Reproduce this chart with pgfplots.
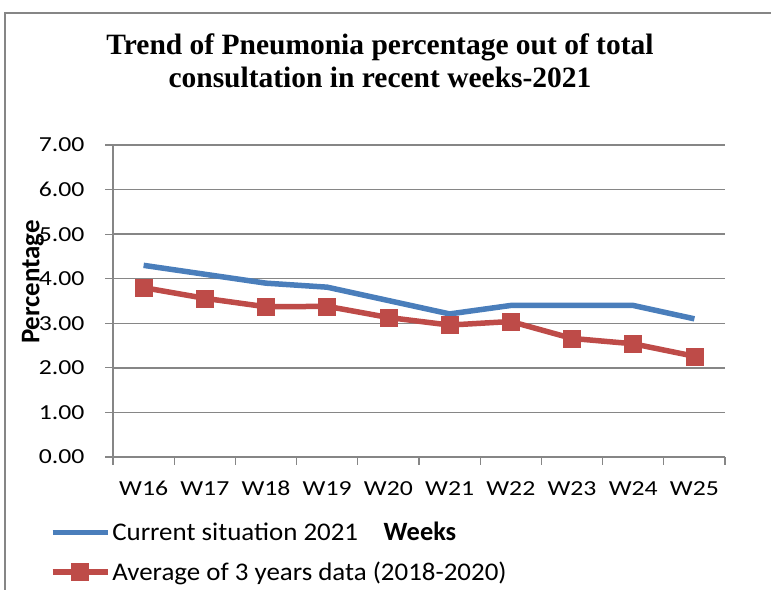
\documentclass[border=0pt]{standalone}
\usepackage{pgfplots}
\pgfplotsset{compat=1.18}
\usepackage{fontspec}
\setmainfont{Carlito}
\newfontfamily\tickfont[FakeStretch=1.2]{Carlito}
\newfontfamily\legfont[FakeStretch=1.06]{Carlito}
\newfontfamily\titlefont{Liberation Serif}
\definecolor{bluec}{RGB}{74,126,187}
\definecolor{redc}{RGB}{190,75,72}
\definecolor{gridc}{RGB}{134,134,134}
\begin{document}
\begin{tikzpicture}[x=1bp,y=1bp]
\path[use as bounding box] (0,0) rectangle (772,590);
\draw[gridc,line width=1.2bp] (5,0) -- (5,577) -- (771,577);
\node[anchor=base,font=\titlefont\bfseries\fontsize{29.6}{33}\selectfont] at (380,535) {Trend of Pneumonia percentage out of total};
\node[anchor=base,font=\titlefont\bfseries\fontsize{29.6}{33}\selectfont] at (380,502) {consultation in recent weeks-2021};
\begin{axis}[
  at={(113bp,133bp)}, anchor=origin,
  width=612bp, height=312bp, scale only axis,
  xmin=0.5, xmax=10.5, ymin=0, ymax=7,
  axis lines*=left,
  axis line style={gridc,line width=1.3bp},
  xtick={1,...,10},
  xticklabels={W16,W17,W18,W19,W20,W21,W22,W23,W24,W25},
  major x tick style={draw=none},
  minor xtick={0.5,1.5,...,10.5},
  minor tick length=8bp,
  ytick={0,...,7},
  major tick length=8bp,
  tick align=outside,
  tick style={gridc,line width=1.2bp},
  ymajorgrids,
  grid style={gridc,line width=1.3bp},
  yticklabel style={/pgf/number format/fixed,/pgf/number format/fixed zerofill,/pgf/number format/precision=2,/pgf/number format/assume math mode=true},
  ticklabel style={font=\tickfont\fontsize{21.5}{25}\selectfont},
  xticklabel style={yshift=-13bp,text height=14bp,text depth=0bp},
  yticklabel style={xshift=-17bp},
  legend style={at={(rel axis cs:-0.1036,-0.205)},anchor=north west,draw=none,fill=none,font=\legfont\fontsize{25.5}{28}\selectfont,row sep=16bp,inner sep=0pt,cells={anchor=west}},
  legend image code/.code={\draw[#1] (0bp,0bp) -- (55bp,0bp); \path[#1,mark repeat=1] plot coordinates {(27.5bp,0bp)};},
  clip=false,
]
\addplot[bluec,line width=5.5bp,mark=none] coordinates {(1,4.30) (2,4.10) (3,3.90) (4,3.81) (5,3.51) (6,3.21) (7,3.40) (8,3.40) (9,3.40) (10,3.10)};
\addlegendentry{Current situation 2021}
\addplot[redc,line width=5.5bp,mark=square*,mark size=8.5bp,mark options={solid,fill=redc,draw=redc,line width=0.5bp}] coordinates {(1,3.80) (2,3.56) (3,3.37) (4,3.38) (5,3.13) (6,2.96) (7,3.04) (8,2.66) (9,2.54) (10,2.26)};
\addlegendentry{Average of 3 years data (2018-2020)}
\end{axis}
\node[font=\bfseries\fontsize{26.5}{30}\selectfont] at (420,59) {Weeks};
\node[font=\bfseries\fontsize{27}{30}\selectfont,rotate=90] at (33,308) {Percentage};
\end{tikzpicture}
\end{document}
